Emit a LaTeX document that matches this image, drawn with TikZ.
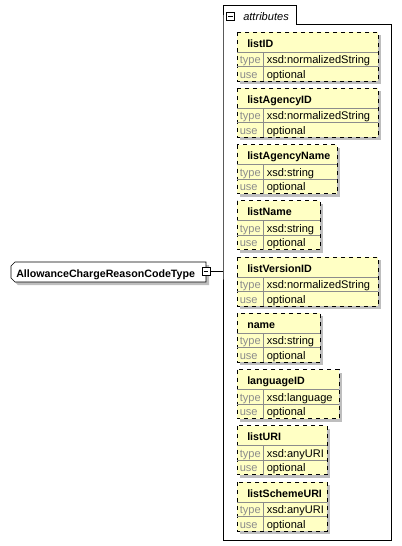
\documentclass[tikz,border=0pt]{standalone}
\usepackage{fontspec}
\setmainfont{Liberation Sans}
\usetikzlibrary{positioning}
\definecolor{xyellow}{HTML}{FFFFC4}
\definecolor{xgray}{HTML}{8C8C8C}
\definecolor{xshadow}{HTML}{BEBEBE}

\begin{document}
\begin{tikzpicture}[x=0.75pt,y=-0.75pt,
  font=\fontsize{8.3}{9}\selectfont,
  attbox/.style={draw=black,dashed,fill=xyellow},
  shd/.style={fill=xshadow,draw=none},
  rowline/.style={draw=xgray},
  lbl/.style={anchor=base west,inner sep=0pt,text=xgray},
  val/.style={anchor=base west,inner sep=0pt},
  ttl/.style={anchor=base west,inner sep=0pt,font=\fontsize{8}{9}\selectfont\bfseries},
  minus/.style={draw=black,fill=white,minimum size=6pt,inner sep=0pt,
                path picture={\draw (path picture bounding box.west) ++(1.2pt,0)
                  -- ([xshift=-1.2pt]path picture bounding box.east);}}]
\useasboundingbox (0,0) rectangle (401,546);

% ------------------------------ type node ---------------------------------
\fill[shd] (14,265) -- (209,265) -- (209,285) -- (18,285) -- (14,281) -- cycle;
\draw[fill=white] (15,262) -- (206,262) -- (206,282) -- (15,282)
  -- (11,278) -- (11,266) -- cycle;
\node[ttl] (ct) at (16,277) {AllowanceChargeReasonCodeType};
\node[minus] (ctm) at (206,271) {};

% ------------------------------ attributes --------------------------------
\draw (223,24) -- (223,5) -- (296,5) -- (296,24) -- (391,24) -- (391,540)
  -- (223,540) -- cycle;
\node[minus] (atm) at (230.5,16.5) {};
\node[anchor=base west,inner sep=0pt,font=\fontsize{8.3}{9}\selectfont\itshape]
  (att) at (243,20) {attributes};
\coordinate (atl) at (223,271);
\draw (ctm.east) -- (atl);

\foreach \nm/\w/\tp [count=\i] in {listID/141/normalizedString,
    listAgencyID/141/normalizedString, listAgencyName/100/string,
    listName/83/string, listVersionID/141/normalizedString, name/83/string,
    languageID/102/language, listURI/90/anyURI, listSchemeURI/90/anyURI}{
  \pgfmathsetmacro\t{32+56.25*(\i-1)}
  \fill[shd] (240,{\t+3}) rectangle ({240+\w},{\t+52});
  \draw[attbox] (237,\t) rectangle ({237+\w},{\t+49});
  \draw[rowline] (237,{\t+20}) -- ({237+\w},{\t+20});
  \draw[rowline] (237,{\t+34.5}) -- ({237+\w},{\t+34.5});
  \draw[rowline] (263,{\t+20}) -- (263,{\t+49});
  \node[ttl] (a\i) at (247,{\t+15}) {\nm};
  \node[lbl] (t\i) at (239.5,{\t+31.5}) {type};
  \node[val] (v\i) at (266.5,{\t+31.5}) {xsd:\tp};
  \node[lbl] (u\i) at (239.5,{\t+46}) {use};
  \node[val] (o\i) at (266.5,{\t+46}) {optional};
}
\end{tikzpicture}
\end{document}
